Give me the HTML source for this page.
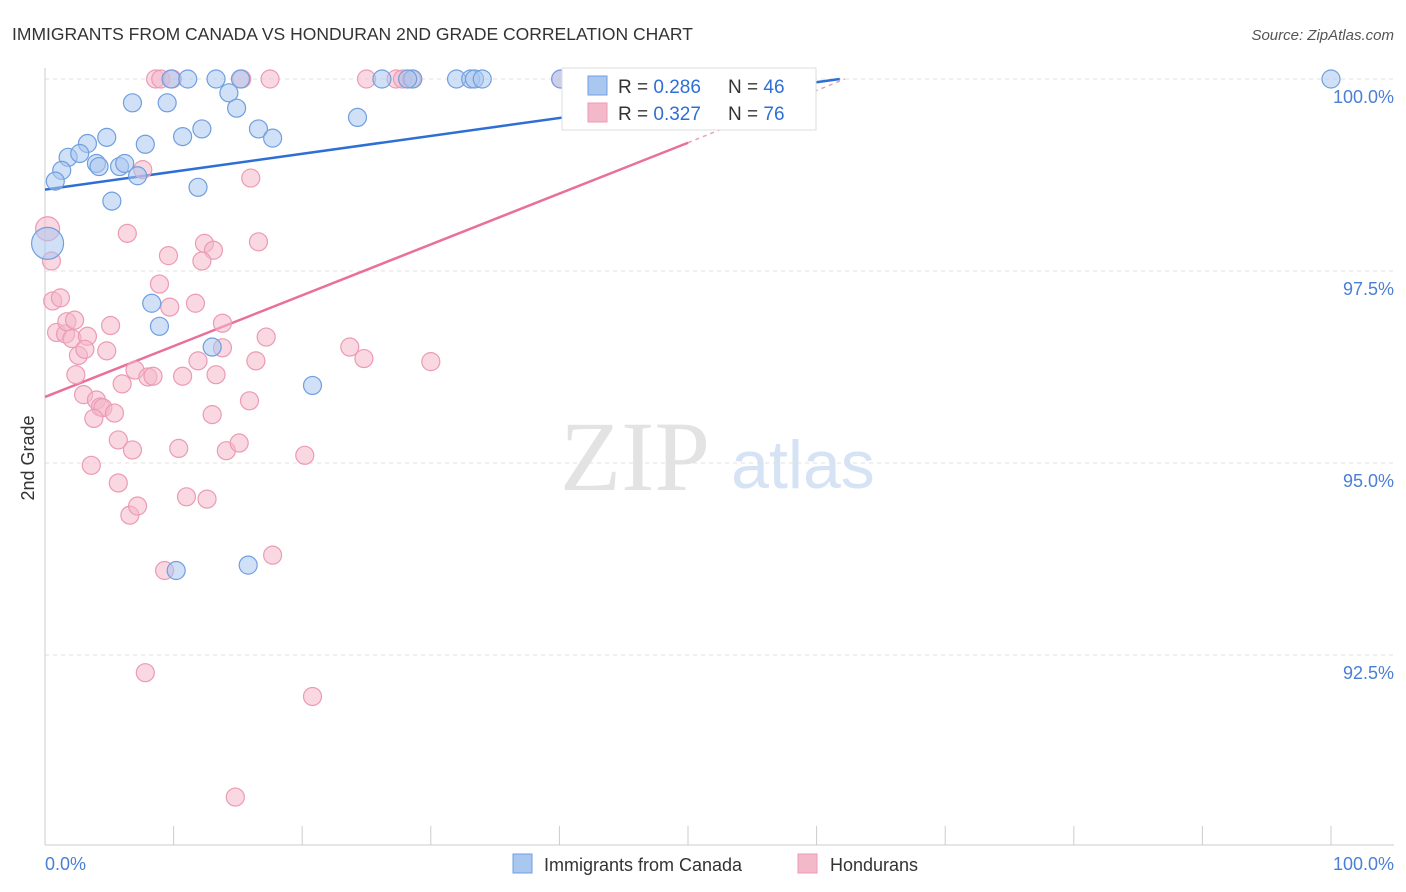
<!DOCTYPE html>
<html><head><meta charset="utf-8"><style>
body{margin:0;background:#fff;font-family:"Liberation Sans",sans-serif;}
svg{display:block}
</style></head><body>
<svg id="chart" width="1406" height="892">
<text x="12" y="40" font-size="17.5" fill="#333">IMMIGRANTS FROM CANADA VS HONDURAN 2ND GRADE CORRELATION CHART</text>
<text x="1394" y="40" font-size="15" fill="#555" font-style="italic" text-anchor="end">Source: ZipAtlas.com</text>
<text x="635" y="490" font-size="100" fill="#e3e3e3" font-family="Liberation Serif,serif" text-anchor="middle">ZIP</text>
<text x="803" y="488" font-size="68" fill="#d6e3f5" text-anchor="middle">atlas</text>
<g id="grid"></g><g id="axes"></g><g id="lines"></g><g id="pts"></g>
<g>
<rect x="562" y="68" width="254" height="62" fill="#fff" stroke="#ddd"/>
<rect x="588" y="76" width="19" height="19" fill="#a9c7ef" stroke="#6f9fe0"/>
<text x="618" y="93" font-size="19" fill="#333">R = <tspan fill="#2e6fd6">0.286</tspan><tspan x="728">N = </tspan><tspan fill="#2e6fd6">46</tspan></text>
<rect x="588" y="103" width="19" height="19" fill="#f4b8cb" stroke="#ec9ab5"/>
<text x="618" y="120" font-size="19" fill="#333">R = <tspan fill="#2e6fd6">0.327</tspan><tspan x="728">N = </tspan><tspan fill="#2e6fd6">76</tspan></text>
</g>
<g>
<rect x="513" y="854" width="19" height="19" fill="#a9c7ef" stroke="#6f9fe0"/>
<text x="544" y="871" font-size="18" fill="#333">Immigrants from Canada</text>
<rect x="798" y="854" width="19" height="19" fill="#f4b8cb" stroke="#ec9ab5"/>
<text x="830" y="871" font-size="18" fill="#333">Hondurans</text>
</g>
<text x="34" y="458" font-size="18" fill="#333" transform="rotate(-90 34 458)" text-anchor="middle">2nd Grade</text>
<text x="45" y="870" font-size="18" fill="#4a7fd6">0.0%</text>
<text x="1394" y="870" font-size="18" fill="#4a7fd6" text-anchor="end">100.0%</text>
</svg>
<script>
const yTicks=[100,97.5,95,92.5];
const yTickLabels=["100.0%","97.5%","95.0%","92.5%"];
const xTicks=[0,10,20,30,40,50,60,70,80,90,100];
const canadaX=[100,40.1,44.5,9.8,11.1,13.3,15.2,26.2,28.6,32,33.1,33.4,34,6.8,9.5,14.3,14.9,24.3,4.8,3.3,7.8,10.7,12.2,16.6,17.7,1.8,2.7,4,4.2,5.8,6.2,1.3,0.8,7.2,11.9,5.2,0.2,8.3,8.9,13,20.8,10.2,15.8,28.2,46.1];
const canadaY=[100,100,100,100,100,100,100,100,100,100,100,100,100,99.69,99.69,99.82,99.62,99.5,99.24,99.16,99.15,99.25,99.35,99.35,99.23,98.98,99.03,98.9,98.86,98.86,98.9,98.81,98.67,98.74,98.59,98.41,97.86,97.08,96.78,96.51,96.01,93.6,93.67,100,100];
const hondX=[8.6,9,9.9,15.3,17.5,25,27.3,27.8,28.5,40.1,41.6,0.2,0.5,0.6,1.2,0.9,1.6,1.7,2.1,2.3,3.3,2.4,2.6,3.1,3,4.0,4.3,4.5,3.8,5.4,5.1,4.8,6.4,7.6,9.6,8.9,9.7,11.7,12.4,13.1,12.2,16.6,16.0,6,7,8,8.4,10.7,11.9,13.3,13.8,13.8,17.2,16.4,23.7,24.8,30,15.9,13,5.7,6.8,3.6,5.7,6.6,7.2,10.4,14.1,15.1,20.2,11,12.6,9.3,17.7,7.8,20.8,14.8];
const hondY=[100,100,100,100,100,100,100,100,100,100,100,98.05,97.63,97.11,97.15,96.7,96.68,96.84,96.62,96.86,96.65,96.15,96.4,96.48,95.89,95.82,95.73,95.72,95.58,95.65,96.79,96.46,97.99,98.82,97.7,97.33,97.03,97.08,97.86,97.77,97.63,97.88,98.71,96.03,96.21,96.12,96.13,96.13,96.33,96.15,96.82,96.5,96.64,96.33,96.51,96.36,96.32,95.81,95.63,95.3,95.17,94.97,94.74,94.32,94.44,95.19,95.16,95.26,95.1,94.56,94.53,93.6,93.8,92.27,91.96,90.65];
const X=v=>45+v*12.86, Y=v=>79+(100-v)*76.8;
const NS="http://www.w3.org/2000/svg";
function mk(p,t,a){const e=document.createElementNS(NS,t);for(const k in a)e.setAttribute(k,a[k]);document.getElementById(p).appendChild(e);return e;}
yTicks.forEach((v,i)=>{
 const g=mk('grid','line',{x1:45,x2:1394,y1:Y(v),y2:Y(v),stroke:'#e2e2e2','stroke-dasharray':'4,4'});
 
 
 const t=mk('axes','text',{x:1394,y:Y(v)+24,'font-size':18,fill:'#4a7fd6','text-anchor':'end'});
 t.textContent=yTickLabels[i];
 
 
});
const ax=mk('axes','line',{x1:45,x2:45,y1:68,y2:845,stroke:'#ccc'});


const bx=mk('axes','line',{x1:45,x2:1394,y1:845,y2:845,stroke:'#ccc'});


xTicks.forEach(v=>{
 const t=mk('axes','line',{x1:X(v),x2:X(v),y1:826,y2:845,stroke:'#ccc'});
 
 
});
function pts(xs,ys,fill,stroke,name,big){xs.forEach((x,i)=>{
 let r=9;
 if(big&&x<0.5&&ys[i]>97.8&&ys[i]<98.1)r=16;
 if(!big&&x<0.5&&ys[i]>97.8&&ys[i]<98.1)r=12;
 const c=mk('pts','circle',{cx:X(x),cy:Y(ys[i]),r:r,fill:fill,'fill-opacity':0.55,stroke:stroke,'stroke-width':1.2});
 
 
});}
pts(hondX,hondY,'#f4b8cb','#ec9ab5','honduran-point',false);
pts(canadaX,canadaY,'#a9c7ef','#6f9fe0','canada-point',true);
const l1=mk('lines','line',{x1:X(0),y1:Y(98.56),x2:X(61.8),y2:Y(100),stroke:'#2e6fd6','stroke-width':2.5});


const l2=mk('lines','line',{x1:X(0),y1:Y(95.86),x2:X(50),y2:Y(99.17),stroke:'#e8709a','stroke-width':2.5});


const l3=mk('lines','line',{x1:X(50),y1:Y(99.17),x2:X(62.2),y2:Y(100),stroke:'#e8a0b8','stroke-width':1.5,'stroke-dasharray':'4,4'});


</script>
</body></html>
